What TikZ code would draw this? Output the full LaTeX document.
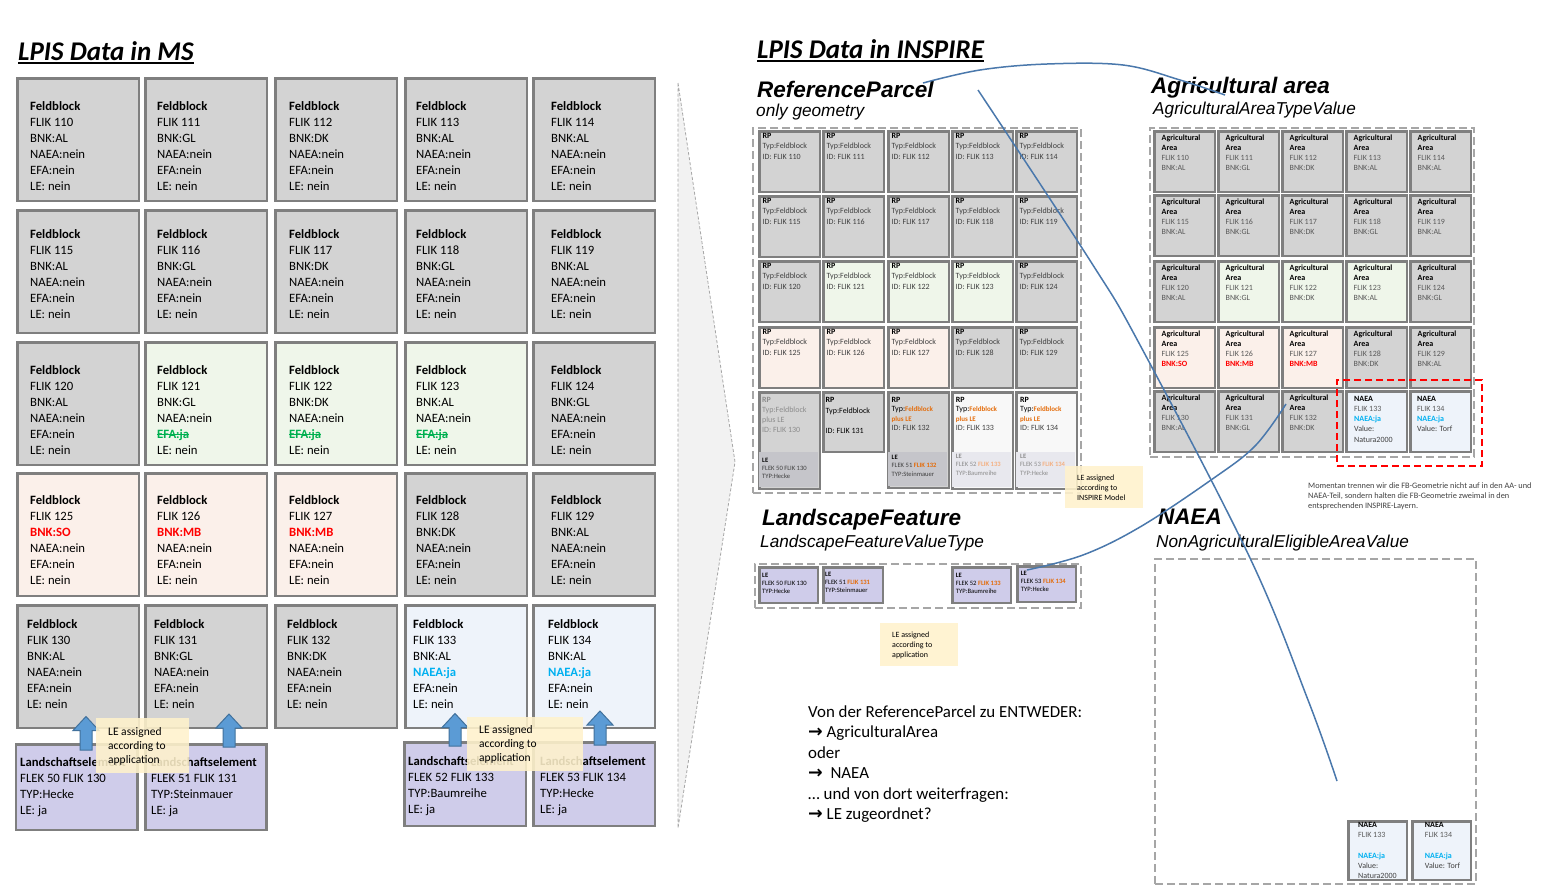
\documentclass[tikz,border=0pt]{standalone}
\usepackage{fontspec}
\setmainfont{Carlito}
\newfontfamily\arialf{Liberation Sans}
\newfontfamily\dejavu{DejaVu Sans}
\usetikzlibrary{calc}
\definecolor{boxline}{HTML}{7F7F7F}
\definecolor{contgray}{HTML}{A6A6A6}
\definecolor{fbgray}{HTML}{D3D3D3}
\definecolor{fbgreen}{HTML}{EFF6EA}
\definecolor{fbpink}{HTML}{FBF0EA}
\definecolor{fbblue}{HTML}{EEF3FA}
\definecolor{lelav}{HTML}{CFCCEA}
\definecolor{notey}{HTML}{FFF2CC}
\definecolor{arrowfill}{HTML}{5B9BD5}
\definecolor{arrowline}{HTML}{41719C}
\definecolor{connblue}{HTML}{4A78AC}
\definecolor{naeacyan}{HTML}{00B0F0}
\definecolor{efagreen}{HTML}{00B050}
\definecolor{orng}{HTML}{E46C0A}
\definecolor{orngl}{HTML}{F4B183}
\definecolor{txtgray}{HTML}{404040}
\definecolor{aagray}{HTML}{595959}
\definecolor{fadegray}{HTML}{8C8C8C}
\definecolor{lesect}{HTML}{C5C5CA}
\definecolor{lesectl}{HTML}{E8E8EE}
\definecolor{rpwhite}{HTML}{F8F8F8}
\definecolor{chevfill}{HTML}{F2F2F2}
\tikzset{
  fb/.style={draw=boxline, line width=2.6pt, anchor=north west, inner sep=0pt, minimum width=121.4pt, minimum height=122.4pt},
  lebox/.style={draw=boxline, line width=2.6pt, anchor=north west, inner sep=0pt, fill=lelav, minimum width=121.4pt},
  cell/.style={draw=boxline, line width=2.4pt, anchor=north west, inner sep=0pt},
  dcont/.style={draw=contgray, line width=2pt, dash pattern=on 8pt off 4pt, anchor=north west, inner sep=0pt},
  notebox/.style={fill=notey, fill opacity=0.88, anchor=north west, inner sep=0pt},
  lt/.style={anchor=north west, inner sep=0pt, align=left, font=\fontsize{12.7}{16}\selectfont},
  nt/.style={anchor=north west, inner sep=0pt, align=left, font=\fontsize{11.5}{13.9}\selectfont},
  st/.style={anchor=north west, inner sep=0pt, align=left, font=\fontsize{8}{10.2}\selectfont},
  tt/.style={anchor=north west, inner sep=0pt, align=left, font=\fontsize{6.6}{8.2}\selectfont},
  bt/.style={anchor=north west, inner sep=0pt, align=left, font=\fontsize{16.9}{20.5}\selectfont},
  head/.style={anchor=base west, inner sep=0pt, font=\arialf\bfseries\itshape\fontsize{22.5}{26}\selectfont},
  subhead/.style={anchor=base west, inner sep=0pt, font=\arialf\itshape\fontsize{17.2}{20}\selectfont},
  title/.style={anchor=base west, inner sep=0pt, font=\bfseries\itshape\fontsize{27}{30}\selectfont},
  conn/.style={draw=connblue, line width=1.5pt},
  uparrow/.style={fill=arrowfill, draw=arrowline, line width=1pt},
}
\newsavebox\strkbox
\newcommand\strk[1]{\sbox\strkbox{#1}\rlap{\usebox\strkbox}\rule[0.28em]{\wd\strkbox}{0.8pt}}
\newcommand\TL[5][]{\node[lt,#1] (#2) at (#3,#4-11) {\rule{0pt}{11pt}#5};}
\newcommand\TN[5][]{\node[nt,#1] (#2) at (#3,#4-10) {\rule{0pt}{10pt}#5};}
\newcommand\TS[5][]{\node[st,#1] (#2) at (#3,#4-7.2) {\rule{0pt}{7.2pt}#5};}
\newcommand\TT[5][]{\node[tt,#1] (#2) at (#3,#4-6) {\rule{0pt}{6pt}#5};}
\newcommand\TB[5][]{\node[bt,#1] (#2) at (#3,#4-14) {\rule{0pt}{14pt}#5};}
\newcommand\FBk[7]{\node[fb,fill=#4] (#1) at (#2+1.3,#3+1.3) {};\TL{#1t}{#5}{#6}{#7}}
\newcommand\fbt[4]{\textbf{Feldblock}\\FLIK #1\\#2\\#3\\#4\\LE: nein}
\newcommand\rbnk[1]{\textcolor{red}{\textbf{BNK:#1}}}
\newcommand\cyja{\textcolor{naeacyan}{\textbf{NAEA:ja}}}
\newcommand\efaja{\textcolor{efagreen}{\bfseries\strk{EFA:ja}}}
\newcommand\UpArr[3]{\draw[uparrow] (#1-6,#3) -- (#1-6,#2+14) -- (#1-13,#2+14) -- (#1,#2) -- (#1+13,#2+14) -- (#1+6,#2+14) -- (#1+6,#3) -- cycle;}
\newcommand\rarr{{\dejavu\bfseries\fontsize{17.5}{20.5}\selectfont →}}
\begin{document}
\begin{tikzpicture}[x=1pt,y=-1pt]
\useasboundingbox (0,0) rectangle (1562,895);
\fill[white] (0,0) rectangle (1562,895);

% ---------- titles
\node[title] (tms) at (18,60) {LPIS Data in MS};
\draw[line width=2pt] ($(tms.base west)+(0,2.6)$) -- ($(tms.base east)+(0,2.6)$);
\node[title] (tins) at (757,58) {LPIS Data in INSPIRE};
\draw[line width=2pt] ($(tins.base west)+(0,2.6)$) -- ($(tins.base east)+(0,2.6)$);

% ---------- chevron
\fill[chevfill] (678,83) -- (735,462) -- (678,828) -- cycle;
\draw[contgray, line width=0.8pt, dash pattern=on 3pt off 2pt] (678,83) -- (735,462) -- (678,828) -- cycle;

% ---------- left grid
\FBk{fb110}{15}{76}{fbgray}{30}{110.3}{\fbt{110}{BNK:AL}{NAEA:nein}{EFA:nein}}
\FBk{fb111}{143}{76}{fbgray}{157}{110.3}{\fbt{111}{BNK:GL}{NAEA:nein}{EFA:nein}}
\FBk{fb112}{273}{76}{fbgray}{289}{110.3}{\fbt{112}{BNK:DK}{NAEA:nein}{EFA:nein}}
\FBk{fb113}{403}{76}{fbgray}{416}{110.3}{\fbt{113}{BNK:AL}{NAEA:nein}{EFA:nein}}
\FBk{fb114}{531}{76}{fbgray}{551}{110.3}{\fbt{114}{BNK:AL}{NAEA:nein}{EFA:nein}}

\FBk{fb115}{15}{208}{fbgray}{30}{238.3}{\fbt{115}{BNK:AL}{NAEA:nein}{EFA:nein}}
\FBk{fb116}{143}{208}{fbgray}{157}{238.3}{\fbt{116}{BNK:GL}{NAEA:nein}{EFA:nein}}
\FBk{fb117}{273}{208}{fbgray}{289}{238.3}{\fbt{117}{BNK:DK}{NAEA:nein}{EFA:nein}}
\FBk{fb118}{403}{208}{fbgray}{416}{238.3}{\fbt{118}{BNK:GL}{NAEA:nein}{EFA:nein}}
\FBk{fb119}{531}{208}{fbgray}{551}{238.3}{\fbt{119}{BNK:AL}{NAEA:nein}{EFA:nein}}

\FBk{fb120}{15}{340}{fbgray}{30}{374}{\fbt{120}{BNK:AL}{NAEA:nein}{EFA:nein}}
\FBk{fb121}{143}{340}{fbgreen}{157}{374}{\fbt{121}{BNK:GL}{NAEA:nein}{\efaja}}
\FBk{fb122}{273}{340}{fbgreen}{289}{374}{\fbt{122}{BNK:DK}{NAEA:nein}{\efaja}}
\FBk{fb123}{403}{340}{fbgreen}{416}{374}{\fbt{123}{BNK:AL}{NAEA:nein}{\efaja}}
\FBk{fb124}{531}{340}{fbgray}{551}{374}{\fbt{124}{BNK:GL}{NAEA:nein}{EFA:nein}}

\FBk{fb125}{15}{471}{fbpink}{30}{504}{\fbt{125}{\rbnk{SO}}{NAEA:nein}{EFA:nein}}
\FBk{fb126}{143}{471}{fbpink}{157}{504}{\fbt{126}{\rbnk{MB}}{NAEA:nein}{EFA:nein}}
\FBk{fb127}{273}{471}{fbpink}{289}{504}{\fbt{127}{\rbnk{MB}}{NAEA:nein}{EFA:nein}}
\FBk{fb128}{403}{471}{fbgray}{416}{504}{\fbt{128}{BNK:DK}{NAEA:nein}{EFA:nein}}
\FBk{fb129}{531}{471}{fbgray}{551}{504}{\fbt{129}{BNK:AL}{NAEA:nein}{EFA:nein}}

\FBk{fb130}{15}{603}{fbgray}{27}{628.5}{\fbt{130}{BNK:AL}{NAEA:nein}{EFA:nein}}
\FBk{fb131}{143}{603}{fbgray}{154}{628.5}{\fbt{131}{BNK:GL}{NAEA:nein}{EFA:nein}}
\FBk{fb132}{273}{603}{fbgray}{287}{628.5}{\fbt{132}{BNK:DK}{NAEA:nein}{EFA:nein}}
\FBk{fb133}{403}{603}{fbblue}{413}{628.5}{\fbt{133}{BNK:AL}{\cyja}{EFA:nein}}
\FBk{fb134}{531}{603}{fbblue}{548}{628.5}{\fbt{134}{BNK:AL}{\cyja}{EFA:nein}}

% ---------- Landschaftselemente
\node[lebox, minimum height=85.4pt] (le50) at (14.8,743.3) {};
\TL{le50t}{20}{766}{\textbf{Landschaftselement}\\FLEK 50 FLIK 130\\TYP:Hecke\\LE: ja}
\node[lebox, minimum height=85.4pt] (le51) at (144,743.3) {};
\TL{le51t}{151}{766}{\textbf{Landschaftselement}\\FLEK 51 FLIK 131\\TYP:Steinmauer\\LE: ja}
\node[lebox, minimum height=83.4pt] (le52) at (403.3,741.3) {};
\TL{le52t}{408}{765}{\textbf{Landschaftselement}\\FLEK 52 FLIK 133\\TYP:Baumreihe\\LE: ja}
\node[lebox, minimum height=83.4pt] (le53) at (532.3,741.3) {};
\TL{le53t}{540}{765}{\textbf{Landschaftselement}\\FLEK 53 FLIK 134\\TYP:Hecke\\LE: ja}

% ---------- block arrows
\UpArr{86}{716.5}{750}
\UpArr{229}{714}{747}
\UpArr{455}{713.5}{746}
\UpArr{600}{711}{745}

% ---------- notes left
\node[notebox, minimum width=93pt, minimum height=55pt] (note1) at (96,718) {};
\TN{note1t}{108}{735.5}{LE assigned\\according to\\application}
\node[notebox, minimum width=116pt, minimum height=54pt] (note2) at (467,717) {};
\TN{note2t}{479}{733}{LE assigned\\according to\\application}

% ---------- ReferenceParcel
\node[head] (hrp) at (757,97) {ReferenceParcel};
\node[subhead] (shrp) at (756,116) {only geometry};
\node[dcont, minimum width=328pt, minimum height=365pt] (rpc) at (752,127) {};
\foreach \x/\y/\n/\f in {757/129/110/fbgray, 821/129/111/fbgray, 886/129/112/fbgray, 950/129/113/fbgray, 1014/129/114/fbgray,
  757/194/115/fbgray, 821/194/116/fbgray, 886/194/117/fbgray, 950/194/118/fbgray, 1014/194/119/fbgray,
  757/259/120/fbgray, 821/259/121/fbgreen, 886/259/122/fbgreen, 950/259/123/fbgreen, 1014/259/124/fbgray,
  757/325/125/fbpink, 821/325/126/fbpink, 886/325/127/fbpink, 950/325/128/fbgray, 1014/325/129/fbgray}{
  \node[cell, fill=\f, minimum width=60.6pt, minimum height=60.6pt] (rp\n) at (\x+1.2,\y+1.2) {};
  \TS{rpt\n}{\x+5.5}{\y+9.5}{\textbf{RP}\\\textcolor{txtgray}{Typ:Feldblock}\\\textcolor{txtgray}{ID: FLIK \n}}
}
% row 5
\node[cell, fill=fbgray, minimum width=60.6pt, minimum height=96.6pt] (rp130) at (758.2,391.2) {};
\fill[lesect] (759.4,452) rectangle (817.6,486.6);
\TS[text=fadegray, font=\fontsize{8}{10}\selectfont]{rpt130}{762}{402}{\textbf{RP}\\Typ:Feldblock\\plus LE\\ID: FLIK 130}
\TT[text=txtgray]{rplt130}{762}{462}{\textcolor{black}{\textbf{LE}}\\FLEK 50 FLIK 130\\TYP:Hecke}

\node[cell, fill=fbgray, minimum width=60.6pt, minimum height=59.6pt] (rp131) at (822.2,391.2) {};
\TS{rpt131}{825.5}{402.6}{\textbf{RP}\\Typ:Feldblock\\\mbox{}\\ID: FLIK 131}

\node[cell, fill=fbgray, minimum width=60.6pt, minimum height=95.6pt] (rp132) at (887.2,391.2) {};
\fill[lesect] (888.4,452) rectangle (946.6,485.6);
\TS[font=\fontsize{8}{9.4}\selectfont]{rpt132}{891.5}{402}{\textbf{RP}\\Typ:\textcolor{orng}{\fontsize{7}{9.4}\selectfont\bfseries Feldblock}\\\textcolor{orng}{\fontsize{7}{9.4}\selectfont\bfseries plus LE}\\\textcolor{txtgray}{ID: FLIK 132}}
\TT[text=txtgray]{rplt132}{891.5}{459.5}{\textcolor{black}{\textbf{LE}}\\FLEK 51 \textcolor{orng}{\textbf{FLIK 132}}\\TYP:Steinmauer}

\node[cell, fill=rpwhite, minimum width=60.6pt, minimum height=96.6pt] (rp133) at (951.2,391.2) {};
\fill[lesectl] (952.4,452) rectangle (1010.6,486.6);
\TS[font=\fontsize{8}{9.4}\selectfont]{rpt133}{955.7}{402}{\textbf{RP}\\Typ:\textcolor{orng}{\fontsize{7}{9.4}\selectfont\bfseries Feldblock}\\\textcolor{orng}{\fontsize{7}{9.4}\selectfont\bfseries plus LE}\\\textcolor{txtgray}{ID: FLIK 133}}
\TT[text=fadegray]{rplt133}{955.7}{458.5}{\textbf{LE}\\FLEK 52 \textcolor{orngl}{\textbf{FLIK 133}}\\TYP:Baumreihe}

\node[cell, fill=rpwhite, minimum width=60.6pt, minimum height=96.6pt] (rp134) at (1015.2,391.2) {};
\fill[lesectl] (1016.4,452) rectangle (1074.6,486.6);
\TS[font=\fontsize{8}{9.4}\selectfont]{rpt134}{1020}{402}{\textbf{RP}\\Typ:\textcolor{orng}{\fontsize{7}{9.4}\selectfont\bfseries Feldblock}\\\textcolor{orng}{\fontsize{7}{9.4}\selectfont\bfseries plus LE}\\\textcolor{txtgray}{ID: FLIK 134}}
\TT[text=fadegray]{rplt134}{1020}{458.5}{\textbf{LE}\\FLEK 53 \textcolor{orngl}{\textbf{FLIK 134}}\\TYP:Hecke}

\node[notebox, minimum width=78pt, minimum height=42pt] (note3) at (1065,466) {};
\TS[font=\fontsize{8}{10}\selectfont]{note3t}{1077}{480}{LE assigned\\according to\\INSPIRE Model}

% ---------- LandscapeFeature
\node[head] (hlf) at (762,525) {LandscapeFeature};
\node[subhead] (shlf) at (760,547.7) {LandscapeFeatureValueType};
\node[dcont, minimum width=326pt, minimum height=44pt] (lfc) at (754,563) {};
\node[cell, fill=lelav, minimum width=58.6pt, minimum height=35.6pt] (lf50) at (758.2,566.2) {};
\TT{lf50t}{762}{577}{\textbf{LE}\\FLEK 50 FLIK 130\\TYP:Hecke}
\node[cell, fill=lelav, minimum width=59.6pt, minimum height=35.6pt] (lf51) at (822.2,566.2) {};
\TT{lf51t}{825}{576}{\textbf{LE}\\FLEK 51 \textcolor{orng}{\textbf{FLIK 131}}\\TYP:Steinmauer}
\node[cell, fill=lelav, minimum width=58.6pt, minimum height=35.6pt] (lf52) at (951.2,566.2) {};
\TT{lf52t}{955.7}{577}{\textbf{LE}\\FLEK 52 \textcolor{orng}{\textbf{FLIK 133}}\\TYP:Baumreihe}
\node[cell, fill=lelav, minimum width=58.6pt, minimum height=35.6pt] (lf53) at (1016.2,565.2) {};
\TT{lf53t}{1020.7}{575}{\textbf{LE}\\FLEK 53 \textcolor{orng}{\textbf{FLIK 134}}\\TYP:Hecke}

\node[notebox, minimum width=78pt, minimum height=43pt] (note4) at (880,623) {};
\TS[font=\fontsize{8}{10}\selectfont]{note4t}{892}{637}{LE assigned\\according to\\application}

% ---------- bottom text
\TB{qtext}{808}{717}{Von der ReferenceParcel zu ENTWEDER:\\\rarr\ AgriculturalArea\\oder\\\rarr\ \ NAEA\\… und von dort weiterfragen:\\\rarr\ LE zugeordnet?}

% ---------- Agricultural area
\node[head] (haa) at (1151,93.3) {Agricultural area};
\node[subhead] (shaa) at (1153,114.3) {AgriculturalAreaTypeValue};
\node[dcont, minimum width=324pt, minimum height=329pt] (aac) at (1149,127) {};
\foreach \x/\y/\n/\b/\f in {1152/129/110/AL/fbgray, 1216/129/111/GL/fbgray, 1280/129/112/DK/fbgray, 1344/129/113/AL/fbgray, 1408/129/114/AL/fbgray,
  1152/193/115/AL/fbgray, 1216/193/116/GL/fbgray, 1280/193/117/DK/fbgray, 1344/193/118/GL/fbgray, 1408/193/119/AL/fbgray,
  1152/259/120/AL/fbgray, 1216/259/121/GL/fbgreen, 1280/259/122/DK/fbgreen, 1344/259/123/AL/fbgreen, 1408/259/124/GL/fbgray,
  1344/325/128/DK/fbgray, 1408/325/129/AL/fbgray,
  1152/389/130/AL/fbgray, 1216/389/131/GL/fbgray, 1280/389/132/DK/fbgray}{
  \node[cell, fill=\f, minimum width=60.6pt, minimum height=60.6pt] (aa\n) at (\x+1.2,\y+1.2) {};
  \TS{aat\n}{\x+9.5}{\y+11}{\textbf{Agricultural}\\\textbf{Area}\\\textcolor{aagray}{FLIK \n}\\\textcolor{aagray}{BNK:\b}}
}
\foreach \x/\n/\b in {1152/125/SO, 1216/126/MB, 1280/127/MB}{
  \node[cell, fill=fbpink, minimum width=60.6pt, minimum height=60.6pt] (aa\n) at (\x+1.2,326.2) {};
  \TS{aat\n}{\x+9.5}{336}{\textbf{Agricultural}\\\textbf{Area}\\\textcolor{aagray}{FLIK \n}\\\rbnk{\b}}
}
\node[cell, fill=fbblue, minimum width=60.6pt, minimum height=60.6pt] (aa133) at (1345.2,390.2) {};
\TS{aat133}{1354}{401}{\textbf{NAEA}\\\textcolor{aagray}{FLIK 133}\\\cyja\\\textcolor{txtgray}{Value:}\\\textcolor{txtgray}{Natura2000}}
\node[cell, fill=fbblue, minimum width=60.6pt, minimum height=60.6pt] (aa134) at (1409.2,390.2) {};
\TS{aat134}{1417}{401}{\textbf{NAEA}\\\textcolor{aagray}{FLIK 134}\\\cyja\\\textcolor{txtgray}{Value: Torf}}
\node[draw=red, line width=2.2pt, dash pattern=on 7pt off 4pt, minimum width=145pt, minimum height=86pt, anchor=north west, inner sep=0pt] (redbox) at (1336,379) {};

\TS[text=txtgray, font=\fontsize{8.3}{10}\selectfont]{mom}{1308}{488.3}{Momentan trennen wir die FB-Geometrie nicht auf in den AA- und\\NAEA-Teil, sondern halten die FB-Geometrie zweimal in den\\entsprechenden INSPIRE-Layern.}

% ---------- NAEA
\node[head] (hna) at (1158,524.3) {NAEA};
\node[subhead] (shna) at (1156,547.3) {NonAgriculturalEligibleAreaValue};
\node[dcont, minimum width=321pt, minimum height=325pt] (nac) at (1154,558) {};
\node[cell, fill=fbblue, minimum width=58.6pt, minimum height=58.6pt] (na133) at (1347.2,820.2) {};
\TS{nat133}{1358}{827.5}{\textbf{NAEA}\\\textcolor{aagray}{FLIK 133}\\\mbox{}\\\cyja\\\textcolor{txtgray}{Value:}\\\textcolor{txtgray}{Natura2000}}
\node[cell, fill=fbblue, minimum width=58.6pt, minimum height=58.6pt] (na134) at (1411.2,820.2) {};
\TS{nat134}{1424.7}{827.5}{\textbf{NAEA}\\\textcolor{aagray}{FLIK 134}\\\mbox{}\\\cyja\\\textcolor{txtgray}{Value: Torf}}

% ---------- hand-drawn connectors
\coordinate (c1a) at (923,83);
\coordinate (c1b) at (1225,95);
\draw[conn] plot[smooth, tension=0.6] coordinates {(c1a) (980,70) (1047,64) (1123,65) (1180,80) (c1b)};
\coordinate (c2a) at (978,90);
\coordinate (c2b) at (1337,781);
\draw[conn] plot[smooth, tension=0.6] coordinates {(c2a) (1091,262) (1140,345) (1250,558) (1308,700) (c2b)};
\coordinate (c3a) at (1027,570);
\coordinate (c3b) at (1286,404);
\draw[conn] plot[smooth, tension=0.6] coordinates {(c3a) (1083,555) (1140,527) (1211,480) (1255,446) (c3b)};
\end{tikzpicture}
\end{document}
